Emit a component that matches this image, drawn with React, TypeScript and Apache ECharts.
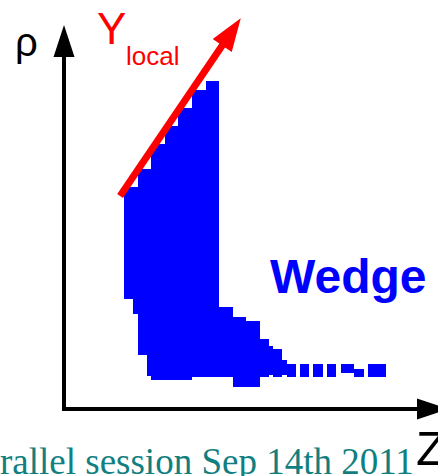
import React, { useEffect, useRef } from "react";
import * as echarts from "echarts";

// Wedge occupancy cells: Z range [z0, z1], rho range [rho0 (bottom), rho1 (top)]
const cellZ0 = [16.3, 18.6, 20.1, 22.4, 23.6, 27.4, 31.0, 34.6, 38.5, 42.0, 45.8, 49.4, 53.2, 55.6, 56.6, 59.1, 60.4, 64.0, 67.6, 71.2, 75.1, 78.7, 82.5];
const cellZ1 = [18.6, 20.1, 22.4, 23.6, 27.4, 31.0, 34.6, 38.5, 42.0, 45.8, 49.4, 53.2, 55.6, 56.6, 59.1, 60.4, 62.8, 66.4, 70.1, 73.7, 78.7, 81.2, 87.3];
const cellRho0 = [30.0, 25.9, 14.7, 9.0, 8.0, 8.0, 8.0, 8.6, 8.6, 8.6, 6.1, 6.1, 8.6, 9.2, 8.6, 9.2, 8.6, 8.6, 8.6, 8.6, 9.8, 8.6, 8.6];
const cellRho1 = [60.4, 60.4, 65.2, 65.2, 72.0, 76.9, 81.8, 86.7, 89.1, 27.6, 25.1, 24.0, 19.1, 17.2, 16.3, 13.4, 12.2, 12.2, 12.2, 12.2, 12.2, 10.9, 12.2];

// Y_local direction arrow: start and tip (Z, rho)
const arrowStart = [15.2, 57.9];
const arrowTip = [47.9, 106.2];

// Texts
const axisNameZ = "Z";
const axisNameRho = "ρ";
const arrowLabelMain = "Y";
const arrowLabelSub = "local";
const regionLabel = "Wedge";
const footerText = "rallel session Sep 14th 2011";

const SANS = '"Liberation Sans", Arial, Helvetica, sans-serif';
const SERIF = '"Liberation Serif", "Times New Roman", serif';

export default function App() {
  const ref = useRef<HTMLDivElement>(null);

  useEffect(() => {
    if (!ref.current) return;
    const chart = echarts.init(ref.current, null, { renderer: "svg" });

    const cells = cellZ0.map((z0, i) => [z0, cellZ1[i], cellRho0[i], cellRho1[i]]);

    const axisCommon = {
      type: "value",
      min: 0,
      max: 100,
      axisLine: {
        show: true,
        onZero: false,
        symbol: ["none", "triangle"],
        symbolSize: [21, 32],
        lineStyle: { color: "#000000", width: 4, cap: "square" },
      },
      axisTick: { show: false },
      axisLabel: { show: false },
      splitLine: { show: false },
    };

    const option: any = {
      animation: false,
      backgroundColor: "#ffffff",
      grid: { left: 64, top: 41, width: 369, height: 368 },
      xAxis: { ...axisCommon },
      yAxis: { ...axisCommon },
      series: [
        {
          type: "custom",
          name: "wedge",
          clip: false,
          encode: { x: [0, 1], y: [2, 3] },
          data: cells,
          renderItem: (params: any, api: any) => {
            const p0 = api.coord([api.value(0), api.value(3)]);
            const p1 = api.coord([api.value(1), api.value(2)]);
            const x0 = Math.round(p0[0]);
            const y0 = Math.round(p0[1]);
            const x1 = Math.round(p1[0]);
            const y1 = Math.round(p1[1]);
            return {
              type: "rect",
              shape: { x: x0, y: y0, width: x1 - x0, height: y1 - y0 },
              style: { fill: "#0000ff" },
            };
          },
        },
        {
          type: "custom",
          name: "ylocal",
          clip: false,
          z: 5,
          encode: { x: [0, 2], y: [1, 3] },
          data: [[arrowStart[0], arrowStart[1], arrowTip[0], arrowTip[1]]],
          renderItem: (params: any, api: any) => {
            const a = api.coord([api.value(0), api.value(1)]);
            const b = api.coord([api.value(2), api.value(3)]);
            const dx = b[0] - a[0];
            const dy = b[1] - a[1];
            const len = Math.hypot(dx, dy);
            const ux = dx / len;
            const uy = dy / len;
            const headLen = 33;
            const headW = 23;
            const bx = b[0] - ux * headLen;
            const by = b[1] - uy * headLen;
            const nx = -uy;
            const ny = ux;
            return {
              type: "group",
              children: [
                {
                  type: "line",
                  shape: { x1: a[0], y1: a[1], x2: bx + ux * 3, y2: by + uy * 3 },
                  style: { stroke: "#ff0000", lineWidth: 7 },
                },
                {
                  type: "polygon",
                  shape: {
                    points: [
                      [b[0], b[1]],
                      [bx + (nx * headW) / 2, by + (ny * headW) / 2],
                      [bx - (nx * headW) / 2, by - (ny * headW) / 2],
                    ],
                  },
                  style: { fill: "#ff0000" },
                },
              ],
            };
          },
        },
      ],
      graphic: [
        {
          type: "text",
          x: 15,
          y: 42,
          style: { text: axisNameRho, fill: "#000000", font: `40px ${SANS}`, verticalAlign: "middle", align: "left" },
        },
        {
          type: "text",
          x: 416,
          y: 448,
          style: { text: axisNameZ, fill: "#000000", font: `49px ${SANS}`, verticalAlign: "middle", align: "left" },
        },
        {
          type: "text",
          x: 97,
          y: 28,
          style: { text: arrowLabelMain, fill: "#ff0000", font: `44px ${SANS}`, verticalAlign: "middle", align: "left" },
        },
        {
          type: "text",
          x: 126,
          y: 55.5,
          style: { text: arrowLabelSub, fill: "#ff0000", font: `26px ${SANS}`, verticalAlign: "middle", align: "left" },
        },
        {
          type: "text",
          x: 270,
          y: 276.5,
          style: { text: regionLabel, fill: "#0000ff", font: `bold 48px ${SANS}`, verticalAlign: "middle", align: "left" },
        },
        {
          type: "text",
          x: 0,
          y: 461,
          style: { text: footerText, fill: "#117f7f", font: `37px ${SERIF}`, verticalAlign: "middle", align: "left" },
        },
      ],
    };

    chart.setOption(option);
    return () => {
      chart.dispose();
    };
  }, []);

  return (
    <div
      ref={ref}
      style={{ position: "fixed", left: 0, top: 0, width: 438, height: 476, background: "#ffffff" }}
    />
  );
}
